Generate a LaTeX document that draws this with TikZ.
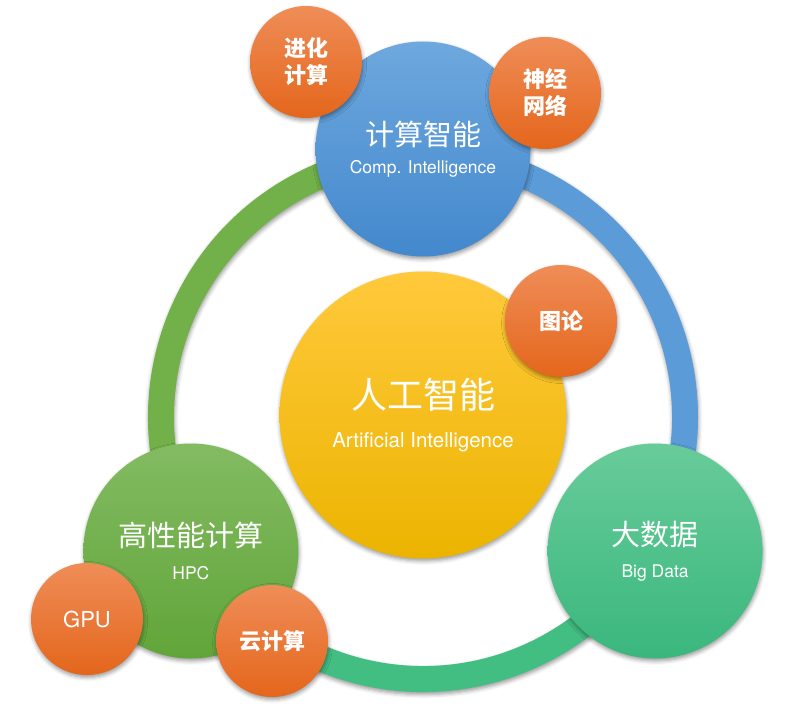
\documentclass[tikz,border=0pt]{standalone}
\usepackage{fontspec}
\setmainfont{TeX Gyre Heros}
\newfontfamily\cjk{Noto Sans CJK SC}
\usetikzlibrary{shadows.blur}
\definecolor{ciTop}{HTML}{6EA8DE}
\definecolor{ciBot}{HTML}{4388CD}
\definecolor{aiTop}{HTML}{FFC93C}
\definecolor{aiMid}{HTML}{FDC300}
\definecolor{aiBot}{HTML}{ECB400}
\definecolor{hpcTop}{HTML}{83BB62}
\definecolor{hpcBot}{HTML}{61A539}
\definecolor{bdTop}{HTML}{68CC9A}
\definecolor{bdBot}{HTML}{3AB77D}
\definecolor{orTop}{HTML}{EF8D57}
\definecolor{orMid}{HTML}{F47C2B}
\definecolor{orBot}{HTML}{E4661C}
\definecolor{ringBlue}{HTML}{5B9BD8}
\definecolor{ringGreen}{HTML}{72B049}
\definecolor{ringTeal}{HTML}{42BE83}
\tikzset{
  ball/.style={circle, inner sep=0pt, text=white, align=center,
    blur shadow={shadow xshift=0.6pt, shadow yshift=-2.5pt, shadow blur radius=4pt, shadow opacity=40}},
  bigball/.style={ball, minimum size=215pt},
  leaf/.style={ball, minimum size=112pt, top color=orTop, middle color=orMid, bottom color=orBot,
    font=\cjk\bfseries\fontsize{22}{27}\selectfont},
  band/.style={blur shadow={shadow xshift=0.6pt, shadow yshift=-2.5pt, shadow blur radius=4pt, shadow opacity=40}},
}
\newcommand{\bigline}[1]{{\cjk\fontsize{29}{30}\selectfont #1}}
\newcommand{\subline}[1]{{\fontsize{17.5}{18}\selectfont #1}}
\begin{document}
\begin{tikzpicture}[x=1pt,y=1pt]
\useasboundingbox (0,0) rectangle (791,716);
\coordinate (hub) at (423,299);
\fill[band, ringBlue] ([shift={(90:275)}]hub) arc[start angle=90,end angle=-30,radius=275]
  -- ([shift={(-30:249)}]hub) arc[start angle=-30,end angle=90,radius=249] -- cycle;
\fill[band, ringTeal] ([shift={(-30:275)}]hub) arc[start angle=-30,end angle=-150,radius=275]
  -- ([shift={(-150:249)}]hub) arc[start angle=-150,end angle=-30,radius=249] -- cycle;
\fill[band, ringGreen] ([shift={(210:275)}]hub) arc[start angle=210,end angle=90,radius=275]
  -- ([shift={(90:249)}]hub) arc[start angle=90,end angle=210,radius=249] -- cycle;
\node[bigball, top color=ciTop, bottom color=ciBot] (ci) at ([shift={(90:268)}]hub)
  {\bigline{计算智能}\\[11pt]\subline{Comp. Intelligence}};
\node[bigball, top color=bdTop, bottom color=bdBot] (bd) at ([shift={(-30:268)}]hub)
  {\bigline{大数据}\\[16pt]\subline{Big Data}};
\node[bigball, top color=hpcTop, bottom color=hpcBot] (hpc) at ([shift={(210:268)}]hub)
  {\bigline{高性能计算}\\[16pt]\subline{HPC}};
\node[ball, minimum size=287pt, top color=aiTop, middle color=aiMid, bottom color=aiBot] (ai) at (423,301)
  {{\cjk\fontsize{36}{38}\selectfont 人工智能}\\[20pt]{\fontsize{20.5}{21}\selectfont Artificial Intelligence}};
\node[leaf] (evo) at (306,654) {进化\\计算};
\node[leaf] (nn) at (545,623) {神经\\网络};
\node[leaf] (graph) at (561,395) {图论};
\node[leaf, font=\fontsize{22}{27}\selectfont] (gpu) at (87,97) {GPU};
\node[leaf] (cloud) at (272,75) {云计算};
\end{tikzpicture}
\end{document}
